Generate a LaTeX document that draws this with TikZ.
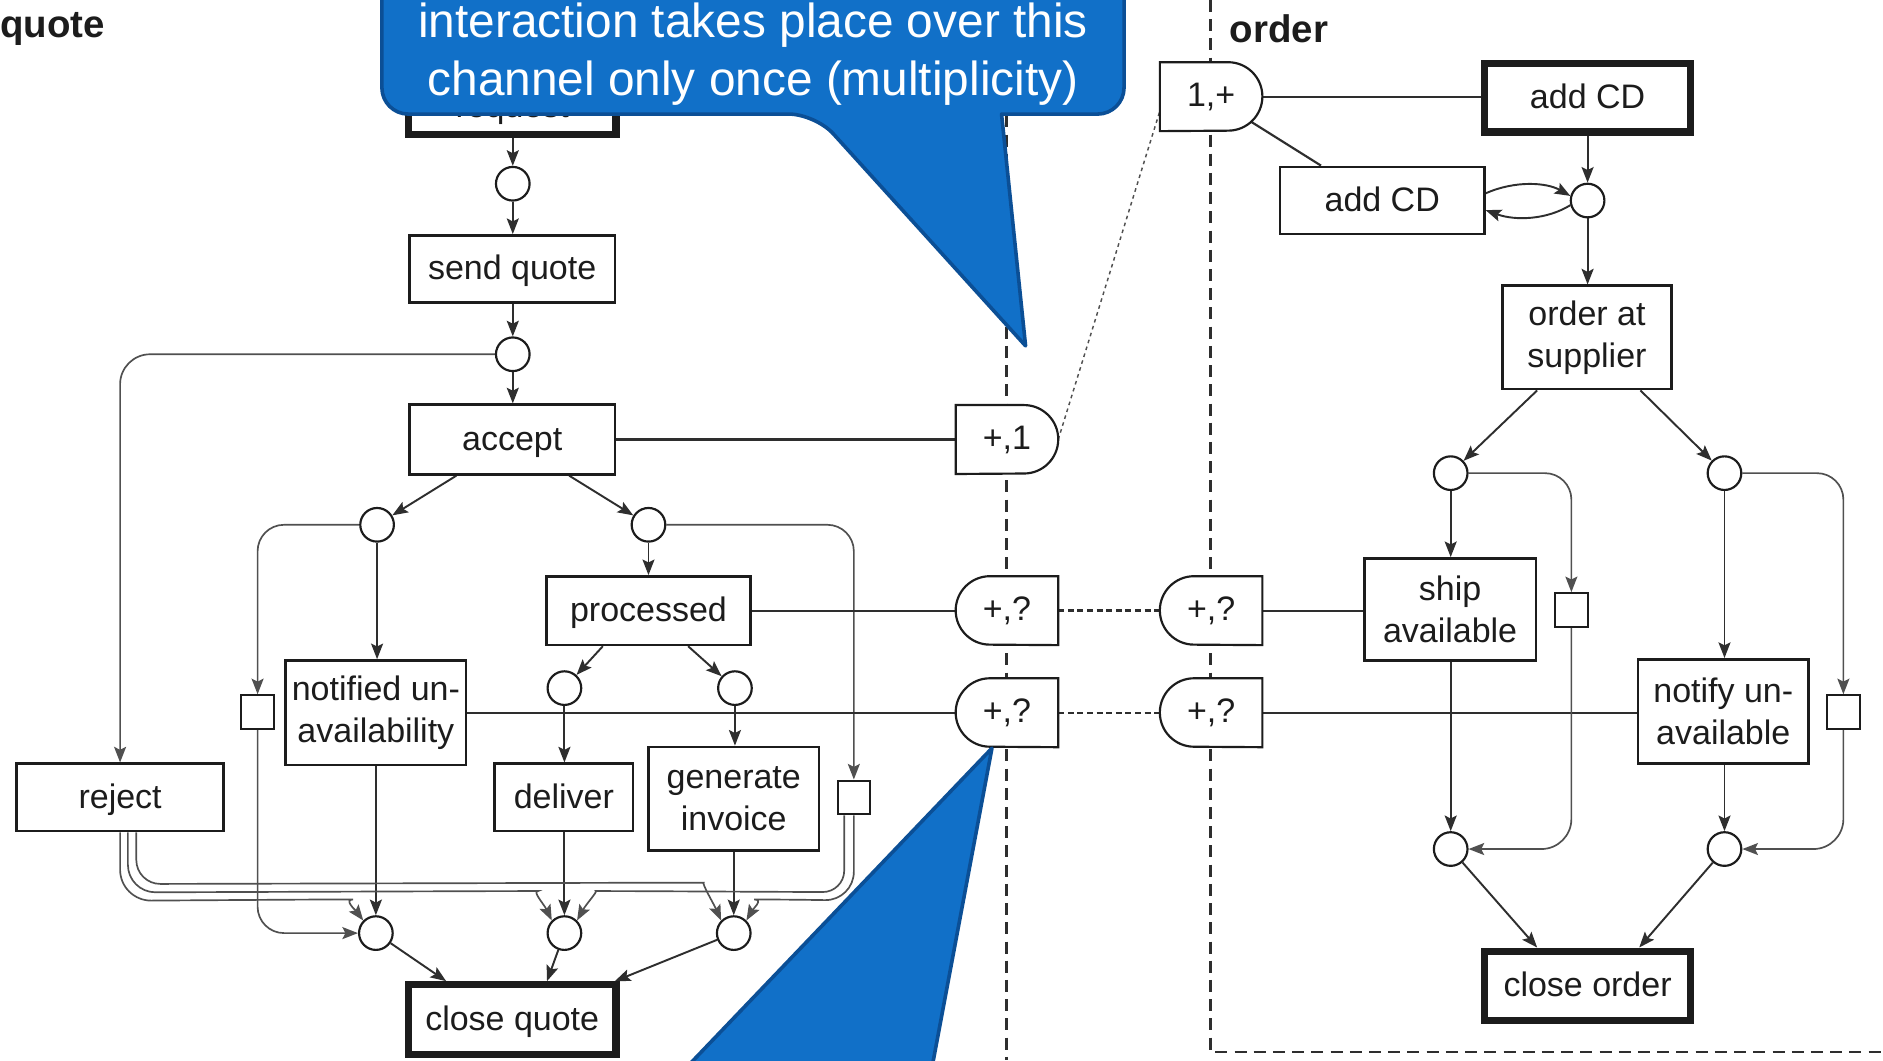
\documentclass[tikz,border=0pt]{standalone}
\usepackage{fontspec}
\setmainfont{Liberation Sans}
\usetikzlibrary{arrows.meta,calc}
\pgfdeclarelayer{bg}
\pgfsetlayers{bg,main}
\definecolor{ink}{HTML}{1C1C1C}
\definecolor{wire}{HTML}{2E2E2E}
\definecolor{softwire}{HTML}{505050}
\definecolor{calloutblue}{HTML}{1170C8}
\definecolor{calloutedge}{HTML}{0B4F96}

\tikzset{
  every node/.style={font=\fontsize{28.3}{35}\selectfont, text=ink},
  task/.style={draw=ink, line width=2.2pt, fill=white, rectangle, align=center, inner sep=0pt},
  keytask/.style={task, line width=6pt},
  oneline/.style={text height=20.3pt, text depth=2.3pt},
  place/.style={draw=ink, line width=1.8pt, fill=white, circle, minimum size=28pt, inner sep=0pt},
  stub/.style={draw=ink, line width=1.8pt, fill=white, rectangle, minimum width=27pt, minimum height=28pt, inner sep=0pt},
  port/.style={rectangle, minimum width=85pt, minimum height=57pt, inner sep=0pt},
  flow/.style={draw=wire, line width=1.6pt, -{Stealth[length=13pt,width=10pt,inset=2.5pt]}},
  loop/.style={flow, draw=softwire, line width=1.4pt},
  link/.style={draw=wire, line width=1.8pt},
  hint/.style={draw=softwire, line width=1.2pt, dash pattern=on 3pt off 3pt},
  channel/.style={draw=wire, line width=2pt, dash pattern=on 5pt off 3pt},
  lane/.style={draw=wire, line width=2pt, dash pattern=on 10pt off 6pt},
  lbl/.style={font=\fontsize{32}{38}\selectfont\bfseries, anchor=west, inner sep=0pt},
  callout/.style={fill=calloutblue, draw=calloutedge, line width=3pt, line join=round},
  callouttext/.style={font=\fontsize{39.8}{48}\selectfont, text=white, align=center, inner sep=0pt},
  portline/.style={draw=ink, line width=1.8pt, fill=white},
}

% port outline: flat on the left, half circle on the right
\newcommand\portflatleft[1]{%
  \path[portline] (#1.north west) -- ([xshift=-28.5pt]#1.north east)
    arc[start angle=90, end angle=-90, radius=28.5pt] -- (#1.south west) -- cycle;}
% port outline: half circle on the left, flat on the right
\newcommand\portflatright[1]{%
  \path[portline] (#1.north east) -- ([xshift=28.5pt]#1.north west)
    arc[start angle=90, end angle=270, radius=28.5pt] -- (#1.south east) -- cycle;}

\begin{document}
\begin{tikzpicture}[x=1pt, y=-1pt]
\useasboundingbox (0,0) rectangle (1568,883);

% ---------- lane labels
\node[lbl] (quotelbl) at (0,24) {quote};
\node[lbl] (orderlbl) at (1024,24) {order};

% ---------- quote process
\node[keytask, minimum width=173pt, minimum height=86pt] (req) at (426.5,69) {};
\node[anchor=base, inner sep=0pt] (reqname) at (426.5,98) {request};
\node[place] (qa) at (427,153) {};
\node[task, oneline, minimum width=171pt, minimum height=56pt] (send) at (426.5,224) {send quote};
\node[place] (qb) at (427,295) {};
\node[task, oneline, minimum width=171pt, minimum height=58pt] (accept) at (426.5,366) {accept};
\node[place] (qc) at (314,437) {};
\node[place] (qd) at (540,437) {};
\node[task, minimum width=150pt, minimum height=87pt] (notified) at (313,593.5) {notified un-\\availability};
\node[task, oneline, minimum width=170pt, minimum height=57pt] (processed) at (540,508.5) {processed};
\node[stub] (sq1) at (214.5,593) {};
\node[stub] (sq2) at (711,664) {};
\node[place] (qe) at (470,573) {};
\node[place] (qf) at (612,573) {};
\node[task, oneline, minimum width=172pt, minimum height=56pt] (reject) at (100,664) {reject};
\node[task, oneline, minimum width=115pt, minimum height=56pt] (deliver) at (469.5,664) {deliver};
\node[task, minimum width=142pt, minimum height=86pt] (geninv) at (611,665) {generate\\invoice};
\node[place] (qg) at (313,777) {};
\node[place] (qh) at (470,777) {};
\node[place] (qi) at (611,777) {};
\node[keytask, oneline, minimum width=173pt, minimum height=58pt] (closeq) at (426.5,849) {close quote};

% ---------- channel ports
\node[port] (p1) at (838.5,366) {};
\node[port] (p2) at (838.5,508.5) {};
\node[port] (p3) at (838.5,593.5) {};
\node[port] (q0) at (1008.5,80.5) {};
\node[port] (q2) at (1008.5,508.5) {};
\node[port] (q3) at (1008.5,593.5) {};
\portflatleft{p1}
\portflatright{p2}
\portflatright{p3}
\portflatleft{q0}
\portflatright{q2}
\portflatright{q3}
\node (p1t) at (838.5,366) {+,1};
\node (p2t) at (838.5,508.5) {+,?};
\node (p3t) at (838.5,593.5) {+,?};
\node (q0t) at (1008.5,80.5) {1,+};
\node (q2t) at (1008.5,508.5) {+,?};
\node (q3t) at (1008.5,593.5) {+,?};

% ---------- order process
\node[keytask, oneline, minimum width=172pt, minimum height=57pt] (addcd) at (1322,81.5) {add CD};
\node[task, oneline, minimum width=170pt, minimum height=56pt] (addcd2) at (1151,167) {add CD};
\node[place] (oa) at (1322,167) {};
\node[task, minimum width=141pt, minimum height=86pt] (oas) at (1321.5,281) {order at\\supplier};
\node[place] (ob) at (1208,394) {};
\node[place] (oc) at (1436,394) {};
\node[task, minimum width=143pt, minimum height=85pt] (ship) at (1207.5,507.5) {ship\\available};
\node[task, minimum width=142pt, minimum height=87pt] (notify) at (1435,592.5) {notify un-\\available};
\node[stub] (sq3) at (1308.5,508) {};
\node[stub] (sq4) at (1535,593) {};
\node[place] (od) at (1208,707) {};
\node[place] (oe) at (1436,707) {};
\node[keytask, oneline, minimum width=172pt, minimum height=58pt] (closeorder) at (1322,821) {close order};

% ---------- connectors, behind the nodes
\begin{pgfonlayer}{bg}
\fill[white] (0,0) rectangle (1568,883);
\draw[lane] (838,0) -- (838,883);
\draw[lane] (1008,0) -- (1008,876) -- (1568,876);

\draw[flow] (req.south -| qa) -- (qa);
\draw[flow] (qa) -- (qa |- send.north);
\draw[flow] (send.south -| qb) -- (qb);
\draw[flow] (qb) -- (qb |- accept.north);
\draw[loop, rounded corners=25pt] (qb.west) -- (reject.north |- qb) -- (reject.north);
\draw[flow] ([xshift=-46.5pt]accept.south) -- (qc);
\draw[flow] ([xshift=47.5pt]accept.south) -- (qd);
\draw[flow] (qc) -- (qc |- notified.north);
\draw[loop, rounded corners=22pt] (qc.west) -- (sq1.north |- qc) -- (sq1.north);
\draw[flow] (qd) -- (qd |- processed.north);
\draw[loop, rounded corners=22pt] (qd.east) -- (sq2.north |- qd) -- (sq2.north);
\draw[flow] ([xshift=-38pt]processed.south) -- (qe);
\draw[flow] ([xshift=33pt]processed.south) -- (qf);
\draw[flow] (qe) -- (qe |- deliver.north);
\draw[flow] (qf) -- (qf |- geninv.north);
\draw[flow] (notified.south -| qg) -- (qg);
\draw[flow] (deliver.south -| qh) -- (qh);
\draw[flow] (geninv.south -| qi) -- (qi);
\draw[loop, rounded corners=22pt] (sq1.south) -- (sq1.south |- qg) -- (qg.west);

% three outcomes of reject
\draw[loop] (reject.south) [rounded corners=26pt] -- ++(0,57) -- (268,749) [sharp corners]
  .. controls (286,749) and (296,758) .. (qg.135);
\draw[loop] ([xshift=6.5pt]reject.south) [rounded corners=23pt] -- ++(0,50) -- (425,742) [sharp corners]
  .. controls (443,742) and (453,753) .. (qh.135);
\draw[loop] ([xshift=13.5pt]reject.south) [rounded corners=20pt] -- ++(0,43) -- (566,735) [sharp corners]
  .. controls (584,735) and (595,754) .. (qi.135);
% two outcomes of the invoice stub
\draw[loop] ([xshift=-8pt]sq2.south) [rounded corners=18pt] -- ++(0,64) -- (514,742) [sharp corners]
  .. controls (498,742) and (488,753) .. (qh.45);
\draw[loop] (sq2.south) [rounded corners=24pt] -- ++(0,71) -- (652,749) [sharp corners]
  .. controls (636,749) and (627,757) .. (qi.45);

\draw[flow] (qg) -- ([xshift=-55pt]closeq.north);
\draw[flow] (qh) -- ([xshift=29pt]closeq.north);
\draw[flow] (qi) -- ([xshift=-4pt]closeq.north east);

% channels between the two processes
\draw[link] (accept.east) -- (p1.west);
\draw[link] (processed.east) -- (p2.west);
\draw[link] (notified.east) -- (notified.east -| p3.west);
\draw[channel] (p2.east) -- (q2.west);
\draw[channel] (p3.east) -- (q3.west);
\draw[link] (q2.east) -- (q2.east -| ship.west);
\draw[link] (q3.east) -- (q3.east -| notify.west);
\draw[hint] (p1.east) -- ([yshift=-12pt]q0.west);
\draw[link] (q0.east) -- (q0.east -| addcd.west);
\draw[link] (q0.center) -- ([xshift=-51pt]addcd2.north);

% order flows
\draw[flow] (addcd.south -| oa) -- (oa);
\draw[flow] ([yshift=6pt]addcd2.east) .. controls (1262,150) and (1288,152) .. (oa.165);
\draw[flow] (oa.195) .. controls (1288,183) and (1262,184) .. ([yshift=-8pt]addcd2.east);
\draw[flow] (oa) -- (oa |- oas.north);
\draw[flow] ([xshift=-41.5pt]oas.south) -- (ob);
\draw[flow] ([xshift=44.5pt]oas.south) -- (oc);
\draw[flow] (ob) -- (ob |- ship.north);
\draw[loop, rounded corners=22pt] (ob.east) -- (sq3.north |- ob) -- (sq3.north);
\draw[flow] (oc) -- (oc |- notify.north);
\draw[loop, rounded corners=22pt] (oc.east) -- (sq4.north |- oc) -- (sq4.north);
\draw[flow] (ship.south -| od) -- (od);
\draw[flow] (notify.south -| oe) -- (oe);
\draw[loop, rounded corners=25pt] (sq3.south) -- (sq3.south |- od) -- (od.east);
\draw[loop, rounded corners=25pt] (sq4.south) -- (sq4.south |- oe) -- (oe.east);
\draw[flow] (od) -- ([xshift=-42pt]closeorder.north);
\draw[flow] (oe) -- ([xshift=43pt]closeorder.north);
\end{pgfonlayer}

% ---------- callouts on top
\draw[callout, rounded corners=22pt] (318,-60) -- (318,95) -- (679,95) [sharp corners]
  -- (854,288) -- (834,95) [rounded corners=22pt] -- (936,95) -- (936,-60) -- cycle;
\node[callouttext] (note) at (627,45) {interaction takes place over this\\channel only once (multiplicity)};
\draw[callout] (826,623) -- (561,900) -- (774,900) -- cycle;
\end{tikzpicture}
\end{document}
